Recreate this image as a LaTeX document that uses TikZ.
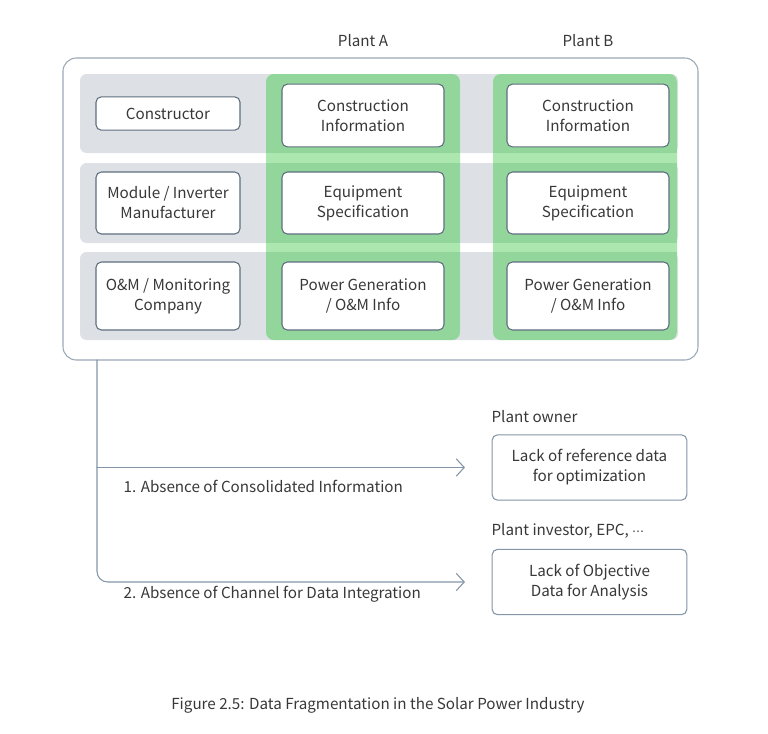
\documentclass[tikz,border=0pt]{standalone}
\usepackage{fontspec}
\setmainfont{Noto Sans CJK KR}
\newfontfamily\symfont{DejaVu Sans}
\usepackage{xcolor}
\usetikzlibrary{arrows.meta,positioning}

\definecolor{rowgray}{HTML}{DDE1E6}
\definecolor{colgreen}{HTML}{93D69B}
\definecolor{colgreenlt}{HTML}{ABE7AF}
\definecolor{boxline}{HTML}{5E6E7E}
\definecolor{frameline}{HTML}{9AA8B5}
\definecolor{linkline}{HTML}{8395A6}
\definecolor{txt}{HTML}{383838}

\tikzset{
  lbl/.style={text=txt, inner sep=1pt},
  box/.style={lbl, draw=boxline, fill=white, rounded corners=4pt, line width=0.8pt, align=center},
  rolebox/.style={box, minimum width=108pt},
  infobox/.style={box, minimum width=121.5pt},
  needbox/.style={box, draw=linkline, minimum width=146pt, minimum height=49pt},
  link/.style={draw=linkline, line width=0.8pt},
}

\begin{document}
\begin{tikzpicture}[x=0.75pt, y=-0.75pt, >={Straight Barb[length=6pt,width=13pt]},
    line cap=round, line join=round, font=\fontsize{11.4}{15}\selectfont]
  \useasboundingbox (0,0) rectangle (768,733);

  % frame, row bands and plant columns
  \draw[frameline, line width=0.8pt, fill=white, rounded corners=10pt] (63,58) rectangle (698,360);
  \foreach \ya/\yb in {74/153, 163/243, 252/340}
    \fill[rowgray, rounded corners=5pt] (80,\ya) rectangle (678,\yb);
  \foreach \xa/\xb in {266/460, 493/677} {
    \begin{scope}
      \fill[colgreenlt, rounded corners=6pt] (\xa,74) rectangle (\xb,340);
      \clip[rounded corners=6pt] (\xa,74) rectangle (\xb,340);
      \foreach \ya/\yb in {74/153, 163/243, 252/340}
        \fill[colgreen] (\xa,\ya) rectangle (\xb,\yb);
    \end{scope}
  }

  \node[lbl] (plantA) at (363,41) {Plant A};
  \node[lbl] (plantB) at (588,41) {Plant B};

  % data holders
  \node[rolebox, minimum height=25pt] (constructor) at (168,113.5) {Constructor};
  \node[rolebox, minimum height=46.5pt] (maker) at (168,203) {Module / Inverter\\Manufacturer};
  \node[rolebox, minimum height=51pt] (operator) at (168,296) {O\&M / Monitoring\\Company};

  \foreach \x/\p in {363/A, 588/B} {
    \node[infobox, minimum height=47pt] (constr\p) at (\x,115.5) {Construction\\Information};
    \node[infobox, minimum height=46.5pt] (equip\p) at (\x,203) {Equipment\\Specification};
    \node[infobox, minimum height=51pt] (power\p) at (\x,296) {Power Generation\\/ O\&M Info};
  }

  % consequences
  \coordinate (trunk) at (97,360);
  \node[needbox] (owner) at (589.5,467.5) {Lack of reference data\\for optimization};
  \node[needbox] (investor) at (589.5,582) {Lack of Objective\\Data for Analysis};
  \node[lbl, anchor=west] (ownerlbl) at (490,417) {Plant owner};
  \node[lbl, anchor=west] (investorlbl) at (490,531) {Plant investor, EPC, {\symfont\fontsize{9}{10}\selectfont ⋯}};

  \draw[link, ->, shorten >=20pt] (trunk |- owner.west) -- (owner.west);
  \draw[link, ->, shorten >=20pt, rounded corners=8pt] (trunk) |- (investor.west);

  \node[lbl, anchor=west] (gap1) at (122,486) {1. Absence of Consolidated Information};
  \node[lbl, anchor=west] (gap2) at (122,594) {2. Absence of Channel for Data Integration};

  \node[lbl] (caption) at (378,705) {Figure 2.5: Data Fragmentation in the Solar Power Industry};
\end{tikzpicture}
\end{document}
